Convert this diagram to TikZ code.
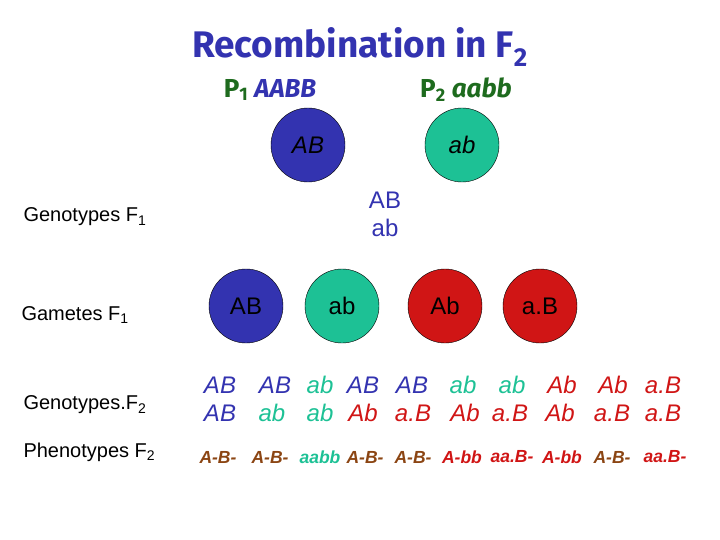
\documentclass[tikz,border=0pt]{standalone}
\usepackage{fontspec}
\setmainfont{Liberation Sans}
\newfontfamily\titlefont{Fira Sans}
\begin{document}
\begin{tikzpicture}[x=1pt,y=-1pt,
  circ/.style={circle,draw=black,minimum size=74pt,inner sep=0pt,font=\fontsize{24}{24}\selectfont\itshape},
  lab/.style={anchor=west,font=\fontsize{20}{20}\selectfont},
  g/.style={font=\fontsize{24}{24}\selectfont\itshape},
  p/.style={font=\fontsize{17.5}{17.5}\selectfont\bfseries\itshape}]
\definecolor{bl}{HTML}{3333B0}
\definecolor{tl}{HTML}{1DC195}
\definecolor{rd}{HTML}{D01515}
\definecolor{br}{HTML}{8B4513}
\definecolor{dg}{HTML}{1E6B1E}
\useasboundingbox (0,0) rectangle (720,540);
\node[text=bl,font=\titlefont\fontsize{37}{37}\selectfont\bfseries] (t) at (360,47) {Recombination in F\textsubscript{2}};
\node[text=dg,font=\titlefont\fontsize{26}{26}\selectfont\bfseries] (p1) at (270,90) {P\textsubscript{1} \textcolor{bl}{\itshape AABB}};
\node[text=dg,font=\titlefont\fontsize{26}{26}\selectfont\bfseries] (p2) at (466,90) {P\textsubscript{2} \itshape aabb};
\node[circ,fill=bl] (c1) at (308,145) {AB};
\node[circ,fill=tl] (c2) at (462,145) {ab};
\node[text=bl,font=\fontsize{24}{24}\selectfont] (f1a) at (385,200) {AB};
\node[text=bl,font=\fontsize{24}{24}\selectfont] (f1b) at (385,228) {ab};
\node[lab] (l1) at (20,217) {Genotypes F\textsubscript{1}};
\node[lab] (l2) at (18,315) {Gametes F\textsubscript{1}};
\node[lab] (l3) at (20,405) {Genotypes.F\textsubscript{2}};
\node[lab] (l4) at (20,452) {Phenotypes F\textsubscript{2}};
\node[circ,fill=bl,font=\fontsize{24}{24}\selectfont] (g1) at (246,306) {AB};
\node[circ,fill=tl,font=\fontsize{24}{24}\selectfont] (g2) at (342,306) {ab};
\node[circ,fill=rd,font=\fontsize{24}{24}\selectfont] (g3) at (445,306) {Ab};
\node[circ,fill=rd,font=\fontsize{24}{24}\selectfont] (g4) at (540,306) {a.B};
\foreach \x/\t/\c [count=\i] in {220/AB/bl,275/AB/bl,320/ab/tl,363/AB/bl,412/AB/bl,463/ab/tl,512/ab/tl,562/Ab/rd,613/Ab/rd,663/a.B/rd}
  \node[g,text=\c] (ra\i) at (\x,385) {\t};
\foreach \x/\t/\c [count=\i] in {220/AB/bl,272/ab/tl,320/ab/tl,363/Ab/rd,413/a.B/rd,465/Ab/rd,510/a.B/rd,560/Ab/rd,612/a.B/rd,663/a.B/rd}
  \node[g,text=\c] (rb\i) at (\x,413) {\t};
\foreach \x/\t/\c [count=\i] in {218/A-B-/br,270/A-B-/br,320/aabb/tl,365/A-B-/br,413/A-B-/br,462/A-bb/rd,512/aa.B-/rd,562/A-bb/rd,612/A-B-/br,665/aa.B-/rd}
  \node[p,text=\c] (rc\i) at (\x,457) {\t};
\end{tikzpicture}
\end{document}
